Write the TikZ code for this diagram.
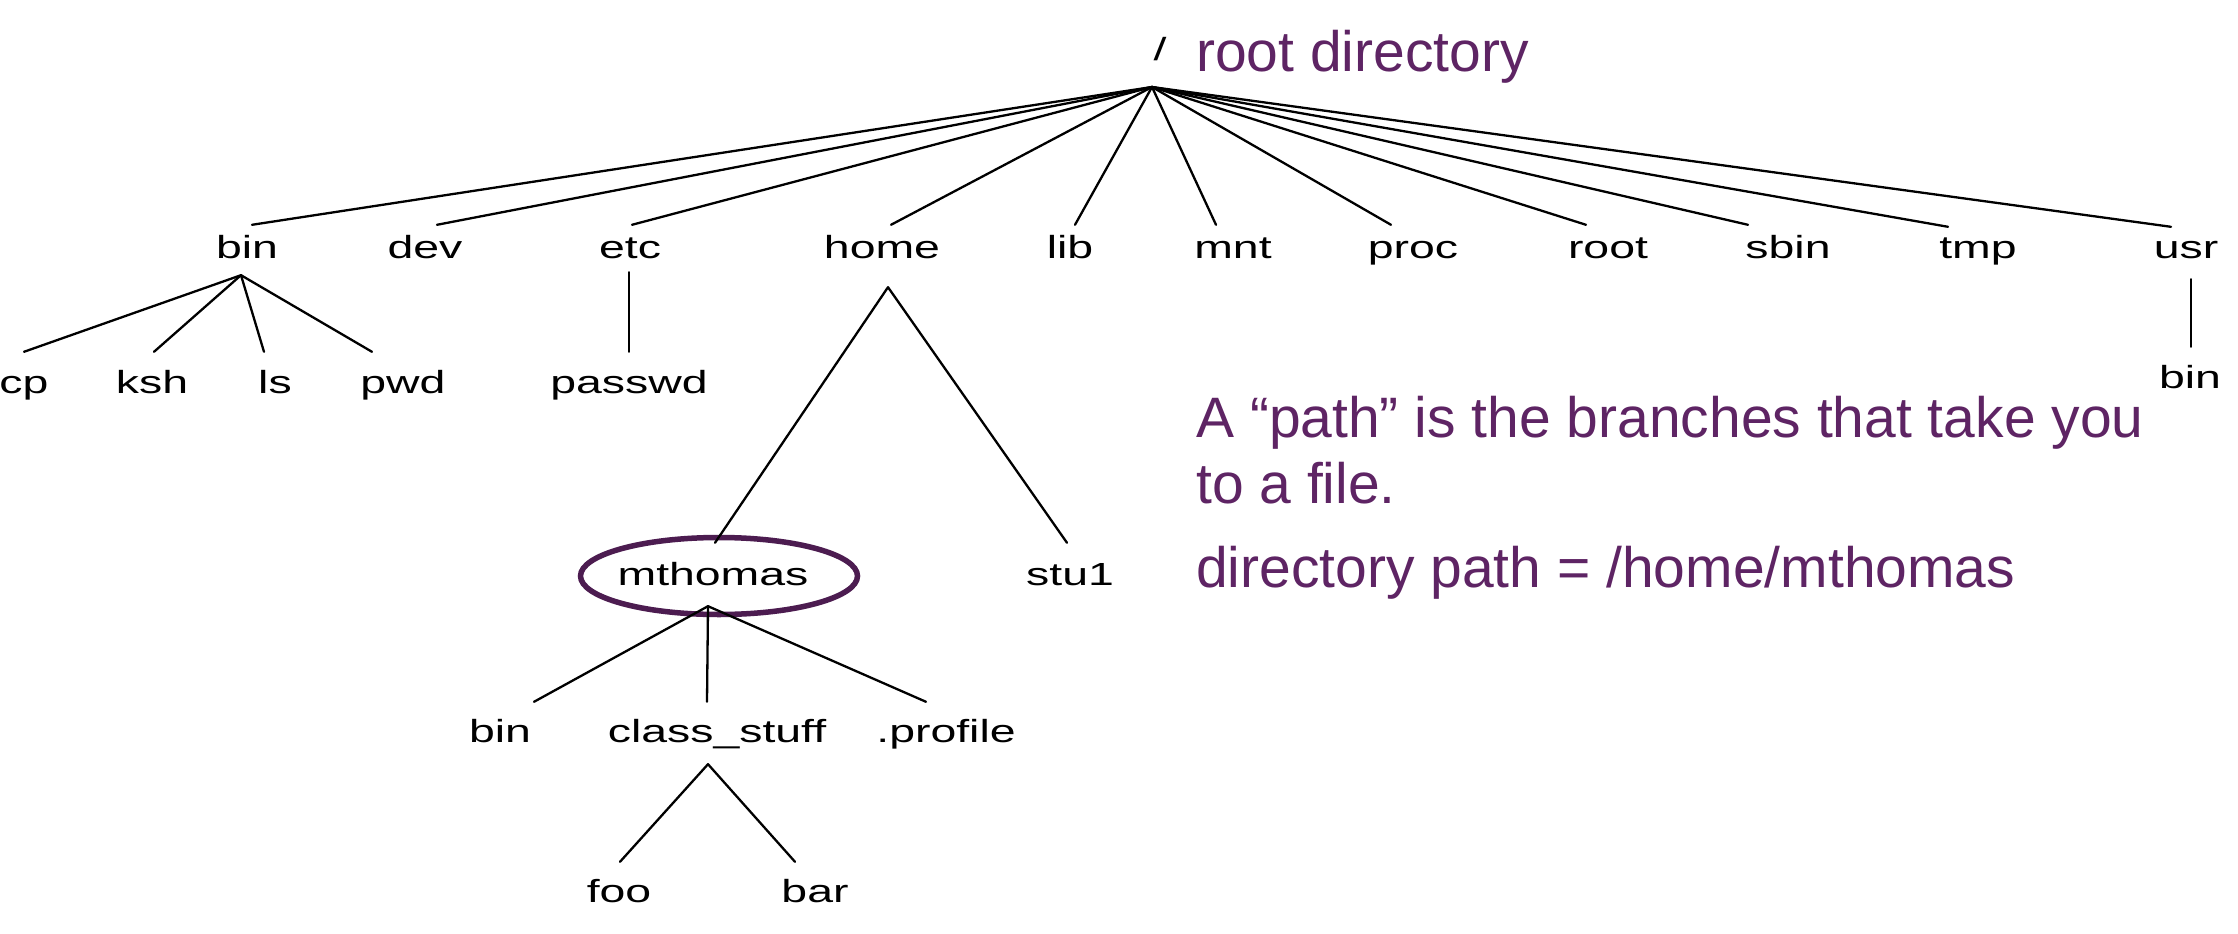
\documentclass[tikz,border=0pt]{standalone}
\usepackage{fontspec}
\usetikzlibrary{shapes.geometric}
\newfontfamily\treefont[FakeStretch=1.45]{Liberation Sans}
\newfontfamily\notefont{Liberation Sans}
\definecolor{notepurple}{RGB}{94,36,100}
\definecolor{ringpurple}{RGB}{76,28,80}
\begin{document}
\begin{tikzpicture}[x=1pt,y=-1pt,
  lbl/.style={font={\treefont\fontsize{32}{38}\selectfont}, anchor=base, inner xsep=0pt, inner ysep=10pt, text height=23pt, text depth=7pt},
  note/.style={font={\notefont\fontsize{57}{66}\selectfont}, text=notepurple, anchor=base west, inner sep=0pt},
  edgeln/.style={line width=2.3pt, line cap=round},
  ring/.style={draw=ringpurple, line width=5.5pt, ellipse, inner sep=0pt, minimum width=277pt, minimum height=77pt}]
\fill[white] (0,0) rectangle (2238,934);
\useasboundingbox (0,0) rectangle (2238,934);

% root
\node[lbl] (rootlbl) at (1160,61) {/};
\coordinate (rootpt) at (1152,87);

% first level
\node[lbl] (nbin)  at (247,258)  {bin};
\node[lbl] (ndev)  at (425,258)  {dev};
\node[lbl] (netc)  at (630,258)  {etc};
\node[lbl] (nhome) at (882,258)  {home};
\node[lbl] (nlib)  at (1070,258) {lib};
\node[lbl] (nmnt)  at (1233,258) {mnt};
\node[lbl] (nproc) at (1413,258) {proc};
\node[lbl] (nroot) at (1608,258) {root};
\node[lbl] (nsbin) at (1788,258) {sbin};
\node[lbl] (ntmp)  at (1978,258) {tmp};
\node[lbl] (nusr)  at (2186,258) {usr};

% second level
\node[lbl] (ncp)     at (24,393)   {cp};
\node[lbl] (nksh)    at (152,393)  {ksh};
\node[lbl] (nls)     at (275,393)  {ls};
\node[lbl] (npwd)    at (403,393)  {pwd};
\node[lbl] (npasswd) at (629,393)  {passwd};
\node[lbl] (nusrbin) at (2190,388) {bin};

% home subtree
\node[ring] (ring) at (719,576) {};
\node[lbl] (nmthomas) at (713,585)  {mthomas};
\node[lbl] (nstu)     at (1070,585) {stu1};
\node[lbl] (nmbin)    at (500,742)  {bin};
\node[lbl] (nclass)   at (717,742)  {class\_stuff};
\node[lbl] (nprofile) at (946,742)  {.profile};
\node[lbl] (nfoo)     at (619,902)  {foo};
\node[lbl] (nbar)     at (815,902)  {bar};

% connectors from root
\draw[edgeln] (rootpt) -- ([xshift=5pt]nbin.north);
\draw[edgeln] (rootpt) -- ([xshift=12pt]ndev.north);
\draw[edgeln] (rootpt) -- ([xshift=2pt]netc.north);
\draw[edgeln] (rootpt) -- ([xshift=9pt]nhome.north);
\draw[edgeln] (rootpt) -- ([xshift=5pt]nlib.north);
\draw[edgeln] (rootpt) -- ([xshift=-17pt]nmnt.north);
\draw[edgeln] (rootpt) -- ([xshift=-22pt]nproc.north);
\draw[edgeln] (rootpt) -- ([xshift=-22pt]nroot.north);
\draw[edgeln] (rootpt) -- ([xshift=-40pt]nsbin.north);
\draw[edgeln] (rootpt) -- ([xshift=-30pt,yshift=-2pt]ntmp.north);
\draw[edgeln] (rootpt) -- ([xshift=-15pt,yshift=-2pt]nusr.north);

% bin children
\draw[edgeln] ([xshift=-6pt]nbin.south) -- ([yshift=8pt]ncp.north);
\draw[edgeln] ([xshift=-6pt]nbin.south) -- ([xshift=2pt,yshift=8pt]nksh.north);
\draw[edgeln] ([xshift=-6pt]nbin.south) -- ([xshift=-11pt,yshift=8pt]nls.north);
\draw[edgeln] ([xshift=-6pt]nbin.south) -- ([xshift=-31pt,yshift=8pt]npwd.north);

% etc, usr
\draw[edgeln] ([xshift=-1pt,yshift=3pt]netc.south) -- ([yshift=8pt]npasswd.north);
\draw[edgeln] ([xshift=5pt,yshift=-4pt]nusr.south) -- ([xshift=1pt,yshift=8pt]nusrbin.north);

% home
\draw[edgeln] ([xshift=6pt,yshift=-12pt]nhome.south) -- ([xshift=2pt,yshift=9pt]nmthomas.north);
\draw[edgeln] ([xshift=6pt,yshift=-12pt]nhome.south) -- ([xshift=-3pt,yshift=9pt]nstu.north);

% mthomas
\draw[edgeln] ([xshift=-5pt,yshift=-4pt]nmthomas.south) -- ([xshift=34pt,yshift=7pt]nmbin.north);
\draw[edgeln] ([xshift=-5pt,yshift=-4pt]nmthomas.south) -- ([xshift=-10pt,yshift=7pt]nclass.north);
\draw[edgeln] ([xshift=-5pt,yshift=-4pt]nmthomas.south) -- ([xshift=-20pt,yshift=7pt]nprofile.north);

% class_stuff
\draw[edgeln] ([xshift=-9pt,yshift=-5pt]nclass.south) -- ([xshift=1pt,yshift=7pt]nfoo.north);
\draw[edgeln] ([xshift=-9pt,yshift=-5pt]nclass.south) -- ([xshift=-20pt,yshift=7pt]nbar.north);

% notes
\node[note] (title) at (1196,72)  {root directory};
\node[note] (pone)  at (1196,437) {A “path” is the branches that take you};
\node[note] (ptwo)  at (1196,503) {to a file.};
\node[note] (pthree) at (1196,587) {directory path = /home/mthomas};
\end{tikzpicture}
\end{document}
